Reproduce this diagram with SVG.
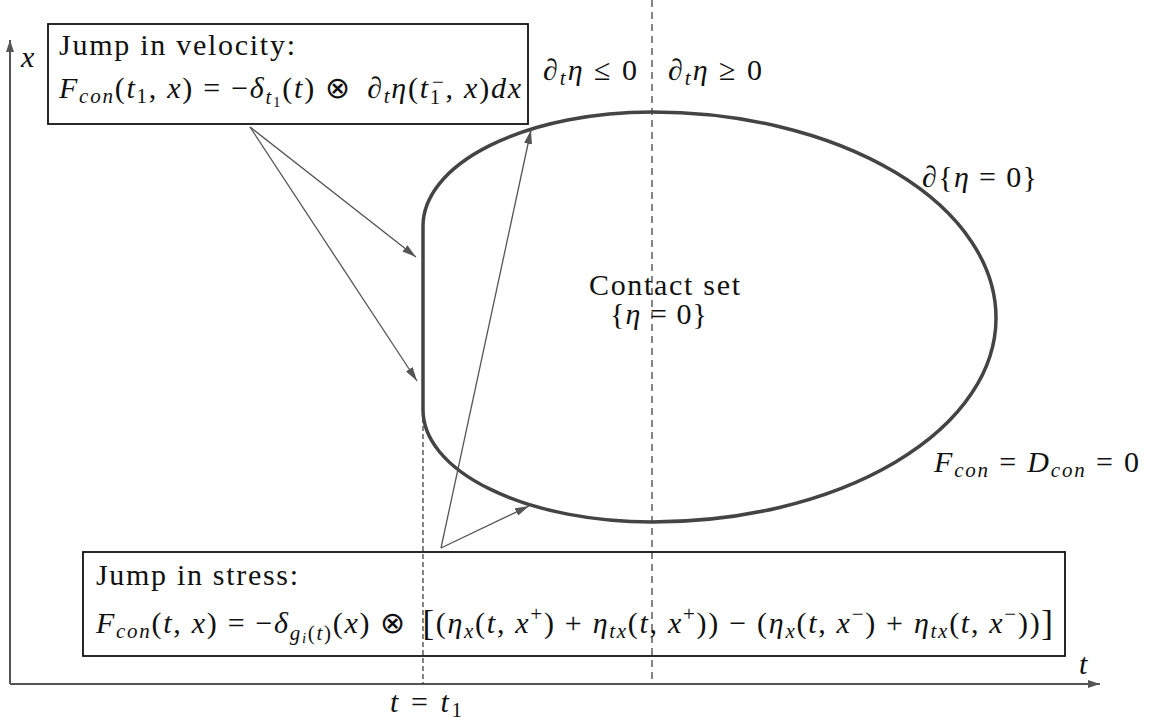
<svg xmlns="http://www.w3.org/2000/svg" width="1150" height="720" viewBox="0 0 1150 720">
<style>
.m{font-family:"Liberation Serif","Times New Roman",serif;font-size:30px;fill:#111}
.i{font-style:italic}
.s{font-size:21px}
.ss{font-size:15px}
.br{font-size:35px}
.box{fill:none;stroke:#111;stroke-width:1.8}
.axis{stroke:#555;stroke-width:2;fill:none}
.dash{stroke:#333;stroke-width:1.2;fill:none}
.conn{stroke:#555;stroke-width:1.3;fill:none}
.curve{stroke:#444;stroke-width:3.5;fill:none}
</style>
<defs>
<marker id="ah" viewBox="0 0 14 8" refX="14" refY="4" markerWidth="14" markerHeight="8" orient="auto" markerUnits="userSpaceOnUse"><path d="M0,0 L14,4 L0,8 Z" fill="#555"/></marker>
<marker id="axh" viewBox="0 0 12 8" refX="12" refY="4" markerWidth="12" markerHeight="8" orient="auto" markerUnits="userSpaceOnUse"><path d="M0,0 L12,4 L0,8 Z" fill="#555"/></marker>
</defs>
<rect width="1150" height="720" fill="#fff"/>

<g id="axes">
<line class="axis" x1="10" y1="684" x2="10" y2="40" marker-end="url(#axh)"/>
<line class="axis" x1="10" y1="684" x2="1100" y2="684" marker-end="url(#axh)"/>
<text class="m i" x="21" y="67">x</text>
<text class="m i" x="1079" y="674">t</text>
<text class="m" x="390" y="712" textLength="72" lengthAdjust="spacing"><tspan class="i">t</tspan> = <tspan class="i">t</tspan><tspan class="s" dy="5">1</tspan></text>
</g>

<g id="dashed-lines">
<line class="dash" x1="652" y1="0" x2="652" y2="684" stroke-dasharray="7 5"/>
<line class="dash" x1="423" y1="410" x2="423" y2="684" stroke-dasharray="5 3"/>
</g>

<g id="contact-set">
<path class="curve" d="M652,112 A344,206 0 0 1 996,318 A344,204 0 0 1 652,522 A229,112 0 0 1 423,410 L423,226 A229,114 0 0 1 652,112 Z"/>
<text class="m" x="589" y="295" textLength="151" lengthAdjust="spacing">Contact set</text>
<text class="m" x="610" y="324" textLength="97" lengthAdjust="spacing">{<tspan class="i">η</tspan> = 0}</text>
</g>

<g id="labels">
<text class="m" x="543" y="80" textLength="94" lengthAdjust="spacing">∂<tspan class="i s" dy="5">t</tspan><tspan class="i" dy="-5">η</tspan> ≤ 0</text>
<text class="m" x="668" y="80" textLength="94" lengthAdjust="spacing">∂<tspan class="i s" dy="5">t</tspan><tspan class="i" dy="-5">η</tspan> ≥ 0</text>
<text class="m" x="922" y="187" textLength="115" lengthAdjust="spacing">∂{<tspan class="i">η</tspan> = 0}</text>
<text class="m" x="934" y="472" textLength="205" lengthAdjust="spacing"><tspan class="i">F</tspan><tspan class="i s" dy="5">con</tspan><tspan dy="-5"> = </tspan><tspan class="i">D</tspan><tspan class="i s" dy="5">con</tspan><tspan dy="-5"> = 0</tspan></text>
</g>

<g id="box-velocity">
<rect class="box" x="48" y="24" width="480" height="100"/>
<text class="m" x="59" y="55" textLength="236" lengthAdjust="spacing">Jump in velocity:</text>
<text class="m" x="59" y="98" textLength="462" lengthAdjust="spacing"><tspan class="i">F</tspan><tspan class="i s" dy="5">con</tspan><tspan dy="-5">(</tspan><tspan class="i">t</tspan><tspan class="s" dy="5">1</tspan><tspan dy="-5">, </tspan><tspan class="i">x</tspan><tspan>) = −</tspan><tspan class="i">δ</tspan><tspan class="i s" dy="6">t</tspan><tspan class="ss" dy="3">1</tspan><tspan dy="-9">(</tspan><tspan class="i">t</tspan><tspan>) ⊗ </tspan><tspan dx="6">∂</tspan><tspan class="i s" dy="5">t</tspan><tspan class="i" dy="-5">η</tspan><tspan>(</tspan><tspan class="i">t</tspan><tspan class="s" dy="6">1</tspan><tspan class="s" dx="-10" dy="-15">−</tspan><tspan dy="9">, </tspan><tspan class="i">x</tspan><tspan>)</tspan><tspan class="i">dx</tspan></text>
</g>

<g id="box-stress">
<rect class="box" x="83" y="552" width="982" height="104"/>
<text class="m" x="96" y="585" textLength="202" lengthAdjust="spacing">Jump in stress:</text>
<text class="m" x="96" y="633" textLength="957" lengthAdjust="spacing"><tspan class="i">F</tspan><tspan class="i s" dy="5">con</tspan><tspan dy="-5">(</tspan><tspan class="i">t</tspan><tspan>, </tspan><tspan class="i">x</tspan><tspan>) = −</tspan><tspan class="i">δ</tspan><tspan class="i s" dy="7">g</tspan><tspan class="i ss" dy="3">i</tspan><tspan class="s" dy="-3">(</tspan><tspan class="i s">t</tspan><tspan class="s">)</tspan><tspan dy="-7">(</tspan><tspan class="i">x</tspan><tspan>) ⊗ </tspan><tspan class="br" dx="6" dy="2">[</tspan><tspan dy="-2">(</tspan><tspan class="i">η</tspan><tspan class="i s" dy="5">x</tspan><tspan dy="-5">(</tspan><tspan class="i">t</tspan><tspan>, </tspan><tspan class="i">x</tspan><tspan class="s" dy="-12">+</tspan><tspan dy="12">) + </tspan><tspan class="i">η</tspan><tspan class="i s" dy="5">tx</tspan><tspan dy="-5">(</tspan><tspan class="i">t</tspan><tspan>, </tspan><tspan class="i">x</tspan><tspan class="s" dy="-12">+</tspan><tspan dy="12">)) − (</tspan><tspan class="i">η</tspan><tspan class="i s" dy="5">x</tspan><tspan dy="-5">(</tspan><tspan class="i">t</tspan><tspan>, </tspan><tspan class="i">x</tspan><tspan class="s" dy="-12">−</tspan><tspan dy="12">) + </tspan><tspan class="i">η</tspan><tspan class="i s" dy="5">tx</tspan><tspan dy="-5">(</tspan><tspan class="i">t</tspan><tspan>, </tspan><tspan class="i">x</tspan><tspan class="s" dy="-12">−</tspan><tspan dy="12">))</tspan><tspan class="br" dy="2">]</tspan></text>
</g>

<g id="connectors">
<line class="conn" x1="250" y1="127" x2="416" y2="257" marker-end="url(#ah)"/>
<line class="conn" x1="250" y1="127" x2="417" y2="381" marker-end="url(#ah)"/>
<line class="conn" x1="441" y1="548" x2="531" y2="130" marker-end="url(#ah)"/>
<line class="conn" x1="441" y1="548" x2="529" y2="506" marker-end="url(#ah)"/>
</g>
</svg>
